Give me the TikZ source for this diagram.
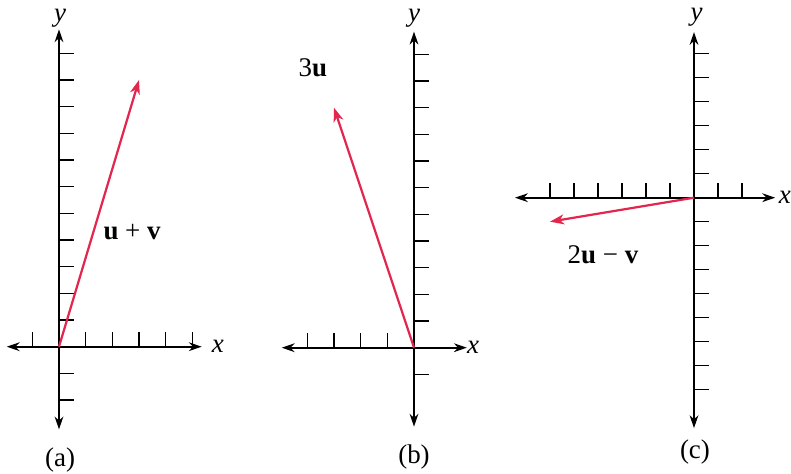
\documentclass[tikz,border=0pt]{standalone}
\usepackage{fontspec}
\setmainfont{Liberation Serif}
\usetikzlibrary{arrows.meta}
\definecolor{vecred}{RGB}{226,38,78}

\begin{document}
\begin{tikzpicture}[x=0.03cm, y=0.03cm,
    axis/.style={line width=1.4pt, {Stealth[length=11pt,width=7.5pt]}-{Stealth[length=11pt,width=7.5pt]}},
    tickmark/.style={line width=1pt},
    vec/.style={vecred, line width=1.9pt, -{Stealth[length=12pt,width=8.5pt,inset=3.5pt]}},
    lbl/.style={font=\fontsize{23}{27}\selectfont}]
    \useasboundingbox (0,0) rectangle (791,473);
    \clip (0,0) rectangle (791,473);

    % (a) the sum u + v
    \begin{scope}[shift={(59,126.3)}, x=0.8cm, y=0.8cm]
        \draw[axis] (-1.96,0) -- (5.35,0);
        \draw[axis] (0,-3.1) -- (0,11.9);
        \foreach \i in {-1,1,2,...,5} \draw[tickmark] (\i,0) -- ++(0,0.45cm);
        \foreach \i in {-2,-1,1,2,...,11} \draw[tickmark] (0,\i) -- ++(0.45cm,0);

        \coordinate (Oa) at (0,0);
        \coordinate (Ta) at (3,10);
        \draw[vec] (Oa) -- (Ta);

        \node[lbl] (ya) at (0.04,12.32) {\textit{y}};
        \node[lbl] (xa) at (5.96,0) {\textit{x}};
        \node[lbl] (sum) at (2.74,4.3) {\textbf{u} + \textbf{v}};
        \node[lbl] (capa) at (0.04,-4.25) {(a)};
    \end{scope}

    % (b) the multiple 3u
    \begin{scope}[shift={(414,125.3)}, x=0.8cm, y=0.8cm]
        \draw[axis] (-4.96,0) -- (1.98,0);
        \draw[axis] (0,-2.96) -- (0,11.85);
        \foreach \i in {-4,-3,-2,-1} \draw[tickmark] (\i,0) -- ++(0,0.45cm);
        \foreach \i in {-1,1,2,...,11} \draw[tickmark] (0,\i) -- ++(0.45cm,0);

        \coordinate (Ob) at (0,0);
        \coordinate (Tb) at (-3,9);
        \draw[vec] (Ob) -- (Tb);

        \node[lbl] (yb) at (0,12.36) {\textit{y}};
        \node[lbl] (xb) at (2.22,0) {\textit{x}};
        \node[lbl] (triple) at (-3.79,10.49) {3\textbf{u}};
        \node[lbl] (capb) at (0,-4.1) {(b)};
    \end{scope}

    % (c) the combination 2u - v
    \begin{scope}[shift={(694,275.3)}, x=0.72cm, y=0.72cm]
        \draw[axis] (-7.46,0) -- (3.38,0);
        \draw[axis] (0,-9.6) -- (0,6.9);
        \foreach \i in {-6,-5,...,-1,1,2} \draw[tickmark] (\i,0) -- ++(0,0.45cm);
        \foreach \i in {-8,-7,...,-1,1,2,...,6} \draw[tickmark] (0,\i) -- ++(0.45cm,0);

        \coordinate (Oc) at (0,0);
        \coordinate (Tc) at (-6,-1);
        \draw[vec] (Oc) -- (Tc);

        \node[lbl] (yc) at (0.11,7.52) {\textit{y}};
        \node[lbl] (xc) at (3.79,0.03) {\textit{x}};
        \node[lbl] (diff) at (-3.79,-2.39) {2\textbf{u} − \textbf{v}};
        \node[lbl] (capc) at (0.04,-10.58) {(c)};
    \end{scope}
\end{tikzpicture}
\end{document}
